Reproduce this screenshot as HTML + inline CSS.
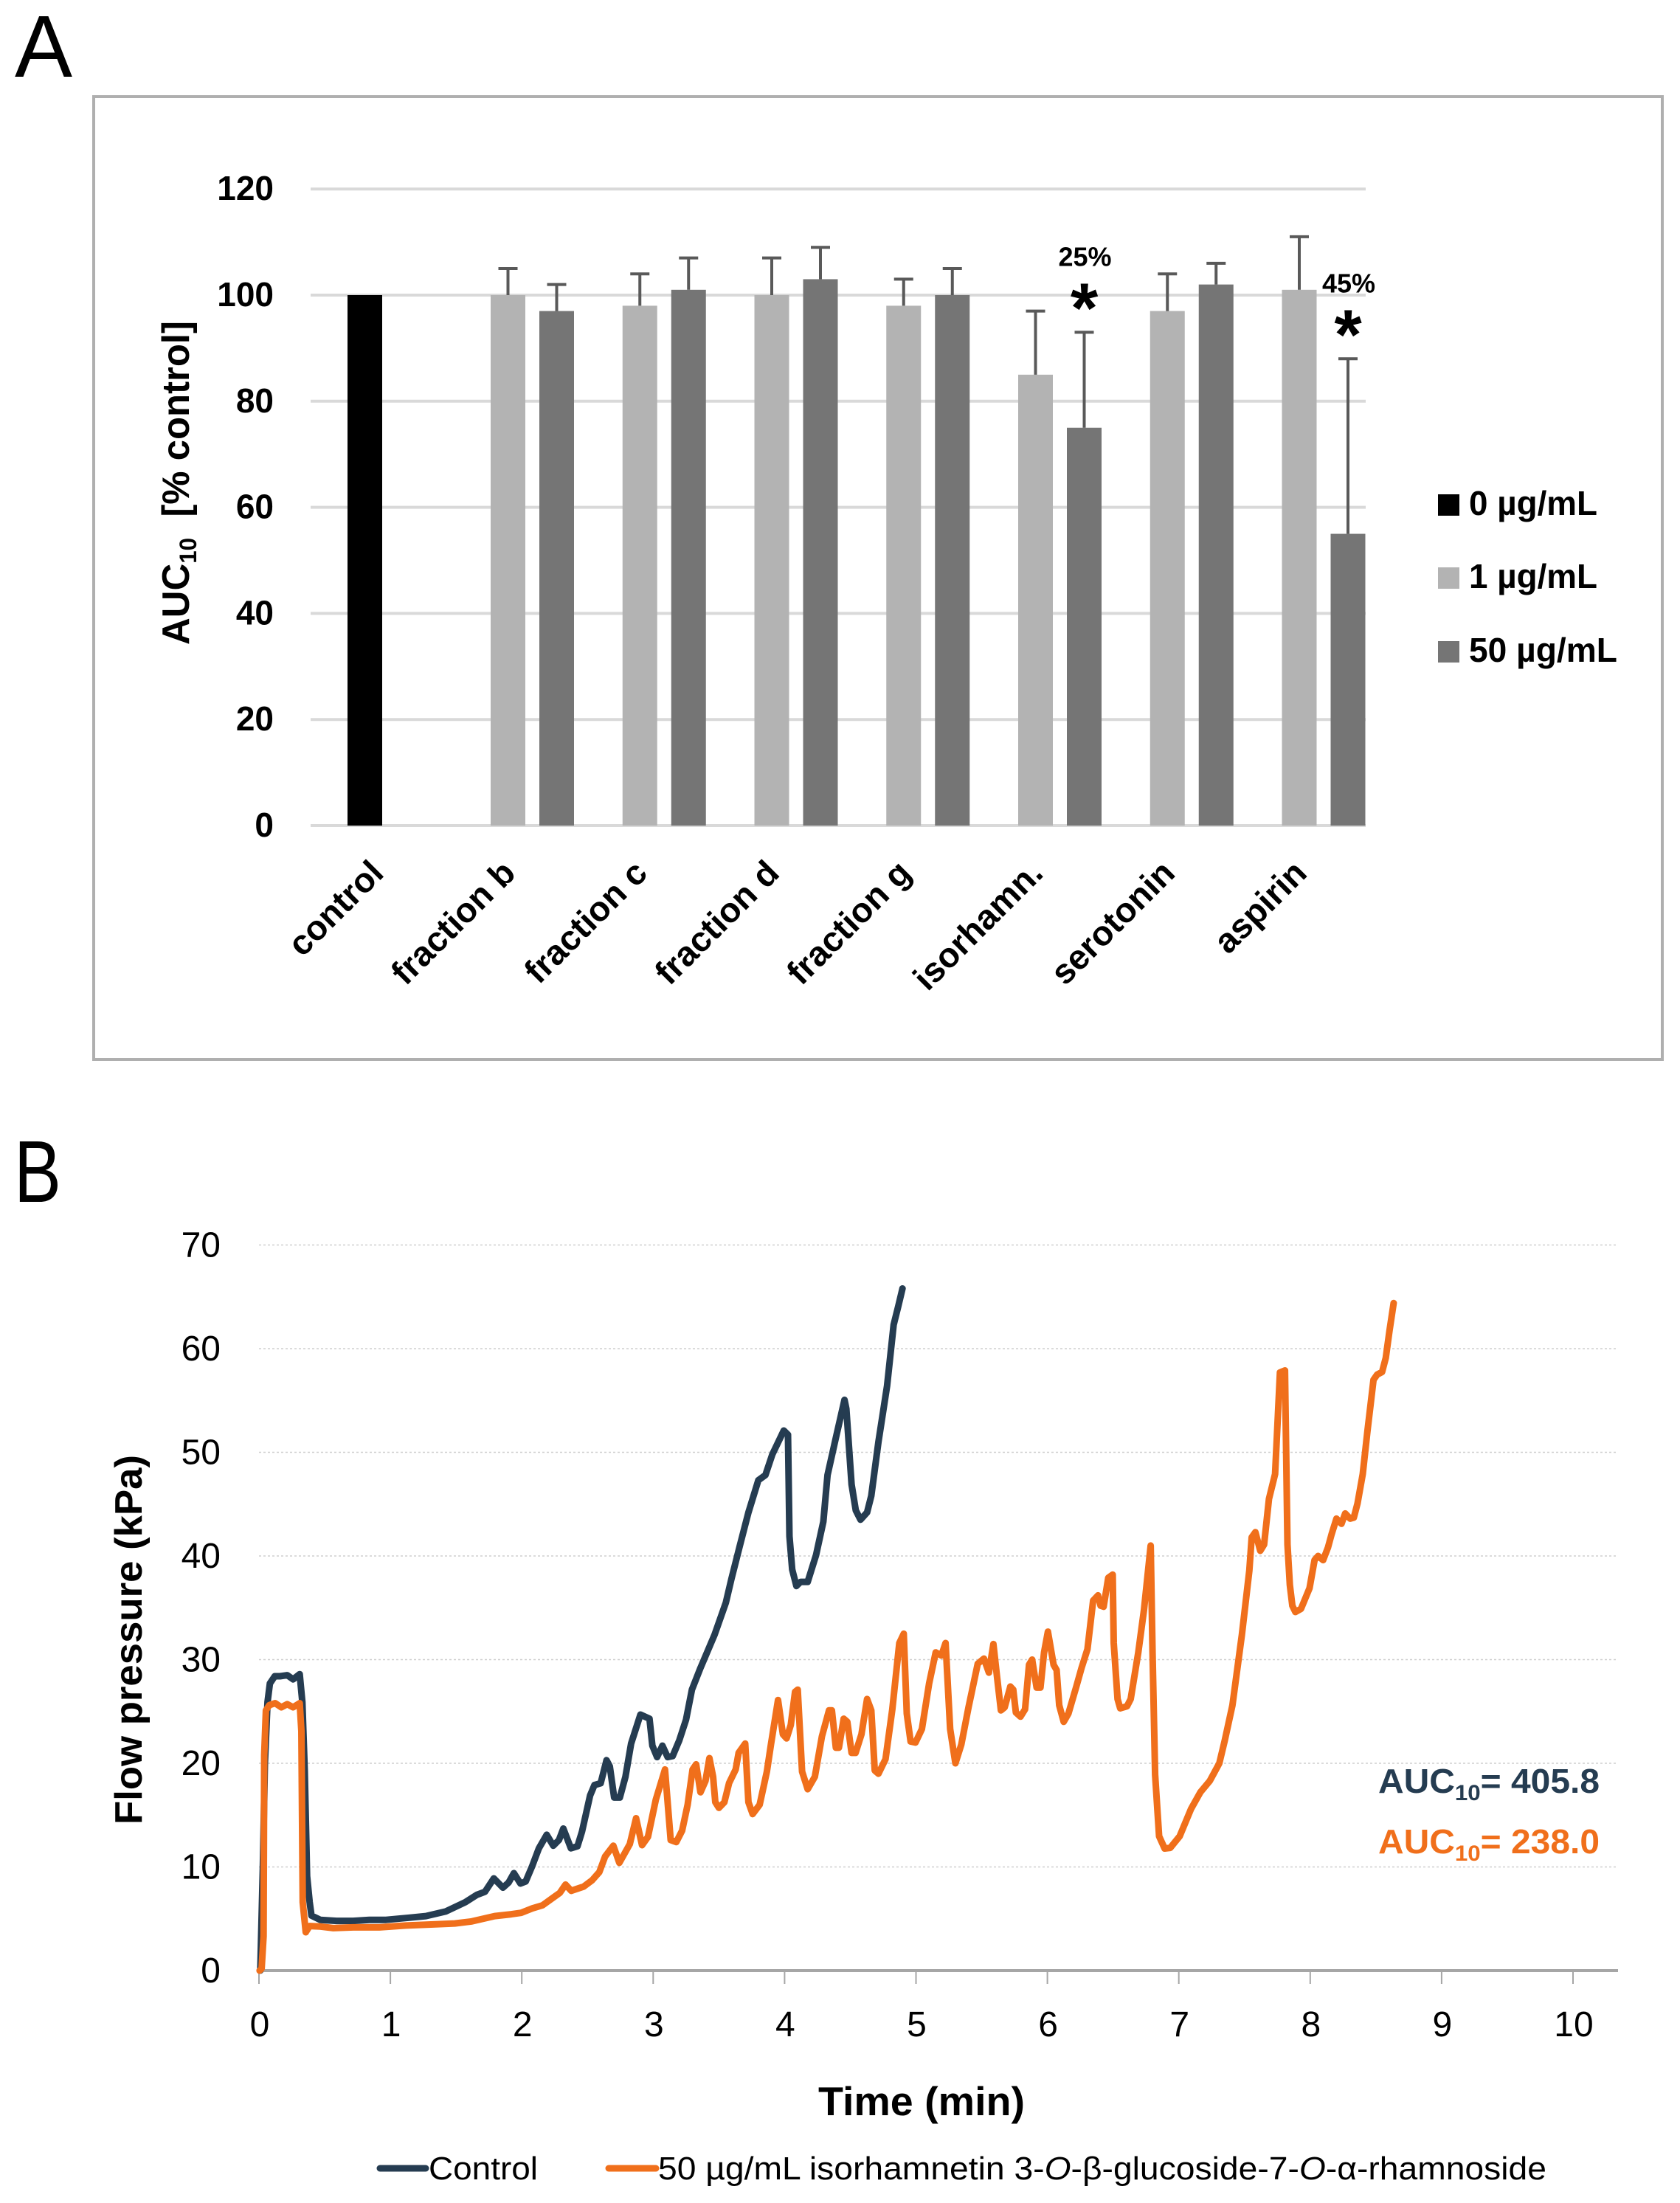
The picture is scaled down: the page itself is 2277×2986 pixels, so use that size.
<!DOCTYPE html>
<html lang="en">
<head>
<meta charset="utf-8">
<title>AUC and flow pressure charts</title>
<style>
html,body{margin:0;padding:0;background:#fff;width:2277px;height:2986px;overflow:hidden}
svg{display:block}
text{font-family:"Liberation Sans",sans-serif;fill:#000}
.b{font-weight:bold}
</style>
</head>
<body>
<svg id="figure" xmlns="http://www.w3.org/2000/svg" width="2277" height="2986" viewBox="0 0 2277 2986">
  <text x="20" y="104" font-size="119" textLength="78" lengthAdjust="spacingAndGlyphs">A</text>
  <rect x="127" y="131" width="2126" height="1305" fill="none" stroke="#afafaf" stroke-width="4"/>
  <g id="chartA"></g>
  <text class="b" transform="translate(256,874) rotate(-90)" font-size="52" textLength="439" lengthAdjust="spacingAndGlyphs">AUC<tspan font-size="32" dy="10">10</tspan><tspan dy="-10" xml:space="preserve">  [% control]</tspan></text>

  <g>
    <rect x="1949" y="670" width="29" height="29" fill="#000"/>
    <text class="b" x="1991" y="698" font-size="46" textLength="174" lengthAdjust="spacingAndGlyphs">0 µg/mL</text>
    <rect x="1949" y="769" width="29" height="29" fill="#b3b3b3"/>
    <text class="b" x="1991" y="797" font-size="46" textLength="174" lengthAdjust="spacingAndGlyphs">1 µg/mL</text>
    <rect x="1949" y="869" width="29" height="29" fill="#757575"/>
    <text class="b" x="1991" y="897" font-size="46" textLength="201" lengthAdjust="spacingAndGlyphs">50 µg/mL</text>
  </g>

  <text x="19" y="1629" font-size="119" textLength="64" lengthAdjust="spacingAndGlyphs">B</text>
  <g id="chartB"></g>
  <text class="b" transform="translate(192,2473) rotate(-90)" font-size="52" textLength="501" lengthAdjust="spacingAndGlyphs">Flow pressure (kPa)</text>
  <text class="b" x="1109" y="2867" font-size="55" textLength="280" lengthAdjust="spacingAndGlyphs">Time (min)</text>

  <text class="b" x="1868" y="2430" font-size="46" style="fill:#253c51" textLength="300" lengthAdjust="spacingAndGlyphs">AUC<tspan font-size="30" dy="10" style="fill:#253c51">10</tspan><tspan dy="-10" style="fill:#253c51">= 405.8</tspan></text>
  <text class="b" x="1868" y="2512" font-size="46" style="fill:#f06f1b" textLength="300" lengthAdjust="spacingAndGlyphs">AUC<tspan font-size="30" dy="10" style="fill:#f06f1b">10</tspan><tspan dy="-10" style="fill:#f06f1b">= 238.0</tspan></text>

  <g>
    <line x1="515" y1="2939" x2="577" y2="2939" stroke="#253c51" stroke-width="9" stroke-linecap="round"/>
    <text x="581" y="2954" font-size="44" textLength="148" lengthAdjust="spacingAndGlyphs">Control</text>
    <line x1="825" y1="2939" x2="889" y2="2939" stroke="#f06f1b" stroke-width="9" stroke-linecap="round"/>
    <text x="892" y="2954" font-size="44" textLength="1204" lengthAdjust="spacingAndGlyphs">50 µg/mL isorhamnetin 3-<tspan font-style="italic">O</tspan>-β-glucoside-7-<tspan font-style="italic">O</tspan>-α-rhamnoside</text>
  </g>
</svg>
<script>
// ---- Panel A data ----
const barCategories = ['fraction b', 'fraction c', 'fraction d', 'fraction g', 'isorhamn.', 'serotonin', 'aspirin'];
const controlLabel = 'control';
const controlValue = [100];
const lowDoseValues = [100, 98, 100, 98, 85, 97, 101];
const highDoseValues = [97, 101, 103, 100, 75, 102, 55];
const lowDoseErrors = [5, 6, 7, 5, 12, 7, 10];
const highDoseErrors = [5, 6, 6, 5, 18, 4, 33];
const significanceLabels = ['', '', '', '', '25%', '', '45%'];
const barYTicks = [0, 20, 40, 60, 80, 100, 120];

// ---- Panel B data ----
const lineYTicks = [0, 10, 20, 30, 40, 50, 60, 70];
const lineXTicks = [0, 1, 2, 3, 4, 5, 6, 7, 8, 9, 10];
const controlTime = [0.01,0.03,0.045,0.065,0.083,0.12,0.16,0.215,0.26,0.31,0.33,0.348,0.366,0.386,0.40,0.466,0.59,0.717,0.84,0.967,1.143,1.27,1.42,1.57,1.657,1.72,1.787,1.857,1.90,1.94,1.99,2.03,2.08,2.13,2.19,2.24,2.283,2.316,2.374,2.424,2.458,2.52,2.553,2.6,2.645,2.67,2.703,2.746,2.789,2.832,2.903,2.972,2.994,3.03,3.07,3.11,3.148,3.198,3.25,3.295,3.36,3.467,3.553,3.596,3.66,3.725,3.80,3.854,3.907,3.994,4.026,4.037,4.058,4.09,4.122,4.176,4.24,4.295,4.327,4.39,4.456,4.47,4.51,4.542,4.578,4.628,4.66,4.714,4.78,4.83,4.865,4.897];
const controlPressure = [0,10,20,25.9,27.7,28.4,28.4,28.5,28.1,28.6,25.9,19.3,9.1,6.6,5.3,4.9,4.8,4.8,4.9,4.9,5.1,5.26,5.7,6.6,7.3,7.6,8.9,8.0,8.5,9.4,8.4,8.6,10.1,11.8,13.1,12.05,12.6,13.7,11.8,12,13.4,16.9,17.9,18.07,20.3,19.7,16.7,16.7,18.7,21.9,24.7,24.3,21.7,20.6,21.7,20.6,20.7,22.2,24.2,27.1,29.2,32.4,35.5,37.8,41,44.2,47.3,47.8,49.8,52.1,51.7,41.9,38.7,37.1,37.5,37.5,40.1,43.3,47.8,51.4,55.06,54.2,46.9,44.4,43.5,44.2,45.8,51.0,56.4,62.3,64.1,65.8];
const treatedTime = [0.005,0.02,0.035,0.04,0.053,0.078,0.123,0.17,0.215,0.26,0.31,0.323,0.333,0.356,0.386,0.466,0.566,0.717,0.917,1.118,1.343,1.49,1.62,1.794,1.92,1.995,2.08,2.158,2.246,2.29,2.333,2.376,2.47,2.534,2.59,2.634,2.697,2.742,2.822,2.87,2.915,2.96,3.02,3.09,3.133,3.176,3.22,3.262,3.3,3.327,3.36,3.398,3.428,3.456,3.473,3.5,3.542,3.578,3.628,3.65,3.70,3.725,3.757,3.81,3.865,3.897,3.95,3.987,4.015,4.047,4.08,4.10,4.133,4.176,4.23,4.284,4.338,4.36,4.39,4.413,4.45,4.477,4.51,4.54,4.585,4.628,4.66,4.686,4.714,4.768,4.82,4.873,4.907,4.93,4.959,4.996,5.045,5.10,5.15,5.193,5.225,5.26,5.30,5.345,5.40,5.47,5.517,5.555,5.589,5.617,5.646,5.675,5.718,5.74,5.76,5.795,5.83,5.86,5.884,5.918,5.947,5.975,6.004,6.047,6.07,6.09,6.124,6.16,6.22,6.26,6.305,6.348,6.385,6.405,6.428,6.463,6.497,6.505,6.534,6.554,6.606,6.634,6.692,6.735,6.786,6.80,6.82,6.85,6.892,6.935,7.007,7.093,7.164,7.236,7.308,7.35,7.408,7.48,7.537,7.555,7.583,7.62,7.649,7.686,7.733,7.77,7.808,7.827,7.845,7.864,7.887,7.93,7.995,8.033,8.06,8.098,8.135,8.163,8.2,8.238,8.266,8.304,8.332,8.36,8.4,8.435,8.482,8.51,8.547,8.575,8.603,8.635];
const treatedPressure = [0,0.2,3.3,20.8,25.1,25.6,25.8,25.4,25.7,25.4,25.8,23.1,6.6,3.7,4.3,4.25,4.1,4.17,4.17,4.35,4.47,4.55,4.75,5.26,5.44,5.57,6.0,6.3,7.1,7.5,8.3,7.7,8.1,8.7,9.5,11.0,12.05,10.4,12.2,14.7,12.1,12.9,16.5,19.4,12.6,12.4,13.5,16.0,19.4,19.9,17.2,18.3,20.5,18.7,16.25,15.7,16.25,18.1,19.4,21.0,21.9,16.25,15.1,16.0,19.2,21.9,26.1,22.8,22.4,23.7,26.9,27.1,19.2,17.5,18.7,22.6,25.1,25.1,21.5,21.5,24.3,24.0,21.0,21.0,22.8,26.2,25.1,19.3,19.0,20.4,25.2,31.6,32.5,24.8,22.1,22.0,23.3,27.7,30.7,30.4,31.6,23.3,20.0,21.8,25.4,29.6,30.1,28.75,31.5,28.3,25.1,25.4,27.4,27.1,24.9,24.5,25.2,29.5,30.0,27.3,27.3,30.7,32.7,29.5,29.0,25.6,24.0,24.8,27.4,29.2,31,35.7,36.2,35.2,35.1,37.9,38.2,31.6,26.2,25.3,25.5,26.2,30.7,34.8,41,30.7,18.9,12.96,11.78,11.84,12.96,15.6,17.2,18.3,20,22.2,25.6,32.4,38.6,41.8,42.3,40.5,41.1,45.5,47.9,57.7,57.9,41.1,37.2,35.2,34.6,34.9,36.9,39.6,40,39.6,40.8,42.1,43.6,43.1,44.1,43.6,43.7,45.06,47.9,52,57,57.5,57.75,59.1,61.7,64.4];

// ---- Drawing helpers ----
const NS = 'http://www.w3.org/2000/svg';
function make(parent, tag, attrs, content) {
  const el = document.createElementNS(NS, tag);
  for (const key in attrs) el.setAttribute(key, attrs[key]);
  if (content !== undefined) el.textContent = content;
  parent.appendChild(el);
  return el;
}

// ---- Panel A ----
const chartA = document.getElementById('chartA');
const aLeft = 421, aRight = 1851, aZeroY = 1119, aUnit = 7.19;
const aBand = (aRight - aLeft) / 8;
const aBarW = 47;
const aY = v => aZeroY - v * aUnit;
const aBandX = i => aLeft + aBand * i;

barYTicks.forEach(t => {
  const grid = make(chartA, 'line', {x1: aLeft, x2: aRight, y1: aY(t), y2: aY(t), stroke: '#d9d9d9', 'stroke-width': 4});
  
  
  const label = make(chartA, 'text', {x: 371, y: aY(t) + 15, 'text-anchor': 'end', 'font-size': 46, 'font-weight': 'bold'}, String(t));
  
  
});

function drawBar(left, value, fill, name) {
  const bar = make(chartA, 'rect', {x: left, y: aY(value), width: aBarW, height: value * aUnit, fill: fill});
  
  
}
function drawError(cx, value, err) {
  const top = aY(value + err);
  const stem = make(chartA, 'line', {x1: cx, x2: cx, y1: aY(value), y2: top, stroke: '#595959', 'stroke-width': 4});
  
  
  const cap = make(chartA, 'line', {x1: cx - 13, x2: cx + 13, y1: top, y2: top, stroke: '#595959', 'stroke-width': 4});
  
  
}
function drawCategoryLabel(right, str) {
  const label = make(chartA, 'text', {'text-anchor': 'end', 'font-size': 47, 'font-weight': 'bold', transform: 'translate(' + right + ',1186) rotate(-45)'}, str);
  
  
}

drawBar(aBandX(0) + 50, controlValue[0], '#000', 'bar-control');
drawCategoryLabel(aBandX(0) + aBand / 2 + 12, controlLabel);

barCategories.forEach((cat, idx) => {
  const bandX = aBandX(idx + 1);
  const lowX = bandX + 65.25;
  const highX = bandX + 131.25;
  drawBar(lowX, lowDoseValues[idx], '#b3b3b3', 'bar-low-dose');
  drawBar(highX, highDoseValues[idx], '#757575', 'bar-high-dose');
  drawError(lowX + aBarW / 2, lowDoseValues[idx], lowDoseErrors[idx]);
  drawError(highX + aBarW / 2, highDoseValues[idx], highDoseErrors[idx]);
  drawCategoryLabel(bandX + aBand / 2 + 12, cat);
  if (significanceLabels[idx]) {
    const cx = highX + aBarW / 2;
    const errTop = aY(highDoseValues[idx] + highDoseErrors[idx]);
    const star = make(chartA, 'text', {x: cx, y: errTop, 'text-anchor': 'middle', 'font-size': 96, 'font-weight': 'bold'}, '*');
    
    
    const pct = make(chartA, 'text', {x: cx + 1, y: errTop - 90, 'text-anchor': 'middle', 'font-size': 36, 'font-weight': 'bold'}, significanceLabels[idx]);
    
    
  }
});

// ---- Panel B ----
const chartB = document.getElementById('chartB');
const bZeroX = 351, bMinute = 178.1, bZeroY = 2671, bUnit = 14.05, bRight = 2193;
const bX = t => bZeroX + t * bMinute;
const bY = v => bZeroY - v * bUnit;

lineYTicks.forEach(t => {
  if (t > 0) {
    const grid = make(chartB, 'line', {x1: bZeroX, x2: bRight, y1: bY(t), y2: bY(t), stroke: '#cfcfcf', 'stroke-width': 1.5, 'stroke-dasharray': '3 3'});
    
    
  }
  const label = make(chartB, 'text', {x: 299, y: bY(t) + 16, 'text-anchor': 'end', 'font-size': 48}, String(t));
  
  
});

const xAxis = make(chartB, 'line', {x1: bZeroX, x2: bRight, y1: bZeroY, y2: bZeroY, stroke: '#a6a6a6', 'stroke-width': 4});



lineXTicks.forEach(t => {
  const tick = make(chartB, 'line', {x1: bX(t), x2: bX(t), y1: bZeroY, y2: bZeroY + 18, stroke: '#a6a6a6', 'stroke-width': 2});
  
  
  const label = make(chartB, 'text', {x: bX(t) + 1, y: 2760, 'text-anchor': 'middle', 'font-size': 48}, String(t));
  
  
});

function seriesPoints(times, values) {
  return times.map((t, i) => bX(t).toFixed(1) + ',' + bY(values[i]).toFixed(1)).join(' ');
}
const controlLine = make(chartB, 'polyline', {points: seriesPoints(controlTime, controlPressure), fill: 'none', stroke: '#253c51', 'stroke-width': 9, 'stroke-linejoin': 'round', 'stroke-linecap': 'round'});


const treatedLine = make(chartB, 'polyline', {points: seriesPoints(treatedTime, treatedPressure), fill: 'none', stroke: '#f06f1b', 'stroke-width': 9, 'stroke-linejoin': 'round', 'stroke-linecap': 'round'});


</script>
</body>
</html>
